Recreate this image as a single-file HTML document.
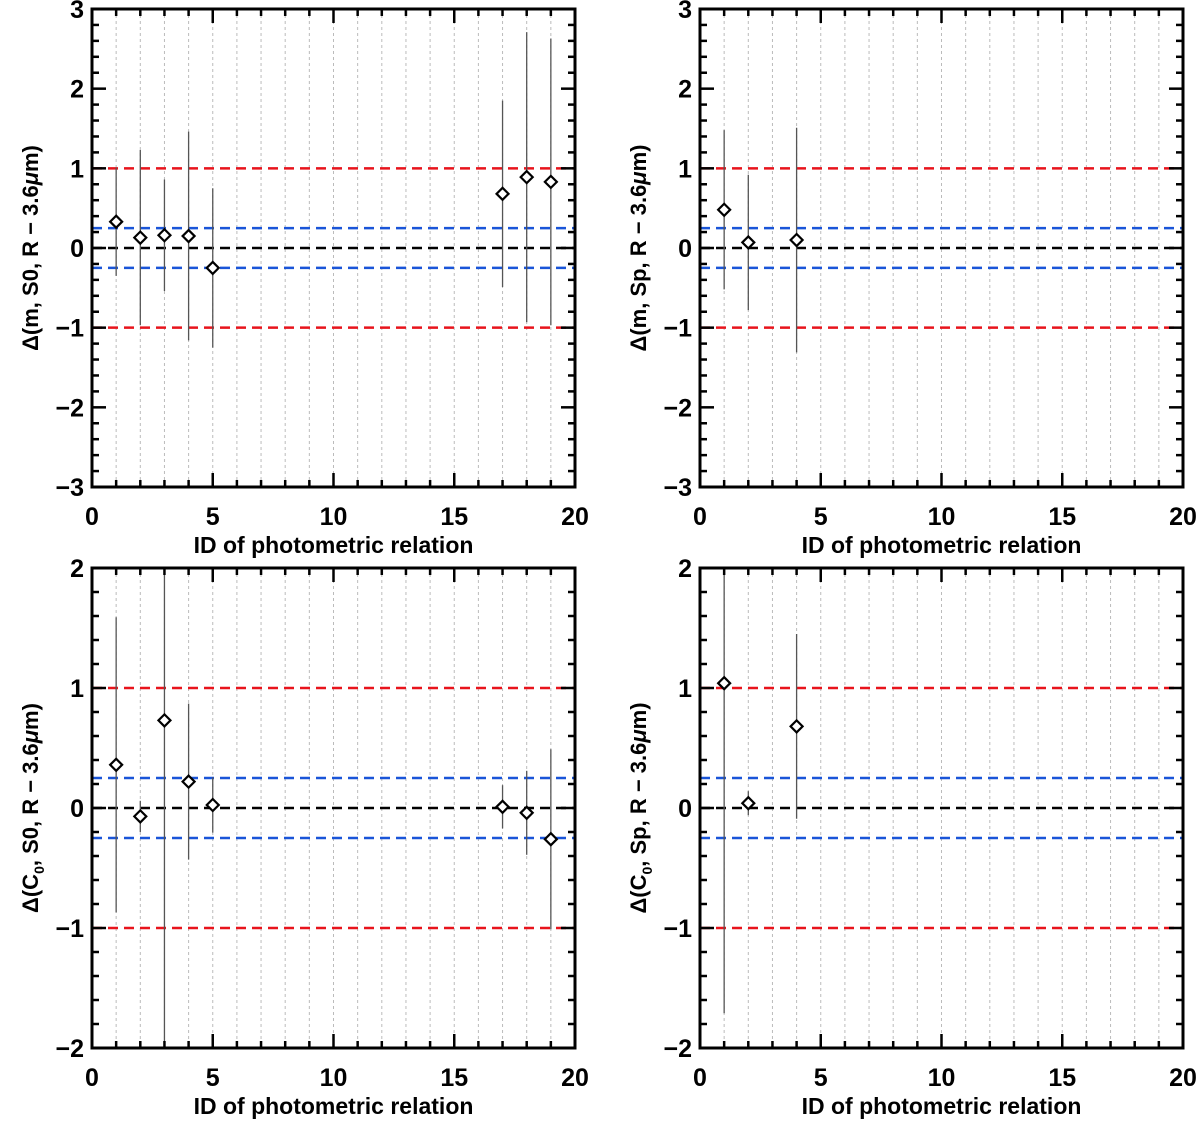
<!DOCTYPE html>
<html><head><meta charset="utf-8"><style>
body{margin:0;background:#fff;}
svg text{font-family:"Liberation Sans",sans-serif;font-weight:bold;fill:#000;}
</style></head><body>
<svg id="fig" width="1200" height="1120" viewBox="0 0 1200 1120" xmlns="http://www.w3.org/2000/svg"></svg>
<script>
// Panel data
const tlIds = [1,2,3,4,5,17,18,19];
const tlVals = [0.33,0.13,0.16,0.15,-0.25,0.68,0.89,0.83];
const tlErrs = [0.68,1.1,0.7,1.31,1.0,1.17,1.82,1.8];
const trIds = [1,2,4];
const trVals = [0.48,0.07,0.1];
const trErrs = [1.0,0.85,1.41];
const blIds = [1,2,3,4,5,17,18,19];
const blVals = [0.36,-0.07,0.73,0.22,0.025,0.01,-0.04,-0.26];
const blErrs = [1.23,0.13,2.8,0.65,0.23,0.18,0.35,0.75];
const brIds = [1,2,4];
const brVals = [1.04,0.04,0.68];
const brErrs = [2.75,0.1,0.77];
const xTicks = [0,5,10,15,20];
const yTicksTop = [-3,-2,-1,0,1,2,3];
const yTicksBot = [-2,-1,0,1,2];

const NS="http://www.w3.org/2000/svg";
const fig=document.getElementById('fig');
function mk(tag,attrs,parent){const e=document.createElementNS(NS,tag);for(const k in attrs)e.setAttribute(k,attrs[k]);(parent||fig).appendChild(e);return e;}

function panel(name,x0,x1,y0,y1,ymin,ymax,yTicks,ids,vals,errs,ytitleParts,tx){
  const g=mk('g',{});
  
  
  const X=v=>x0+(v-0)/(20-0)*(x1-x0);
  const Y=v=>y1-(v-ymin)/(ymax-ymin)*(y1-y0);
  const clip='clip-'+name;
  const cp=mk('clipPath',{id:clip},g);mk('rect',{x:x0,y:y0,width:x1-x0,height:y1-y0},cp);
  for(let i=1;i<20;i++){const l=mk('line',{x1:X(i),x2:X(i),y1:y0,y2:y1,stroke:'#bbb','stroke-width':1,'stroke-dasharray':'3,3'},g);
    }
  const refs=[[1,'#e8141c'],[-1,'#e8141c'],[0.25,'#1a55d8'],[-0.25,'#1a55d8'],[0,'#000']];
  refs.forEach(r=>{const l=mk('line',{x1:x0,x2:x1,y1:Y(r[0]),y2:Y(r[0]),stroke:r[1],'stroke-width':2.5,'stroke-dasharray':'10,6'},g);
    });
  const dg=mk('g',{'clip-path':'url(#'+clip+')'},g);
  ids.forEach((id,i)=>{
    const cx=X(id),cy=Y(vals[i]);
    const e=mk('line',{x1:cx,x2:cx,y1:Y(vals[i]+errs[i]),y2:Y(vals[i]-errs[i]),stroke:'#555','stroke-width':1.3},dg);
    
    const d=mk('polygon',{points:`${cx},${cy-6} ${cx+6},${cy} ${cx},${cy+6} ${cx-6},${cy}`,fill:'#fff',stroke:'#000','stroke-width':2.2},dg);
    
  });
  mk('rect',{x:x0,y:y0,width:x1-x0,height:y1-y0,fill:'none',stroke:'#000','stroke-width':3},g);
  for(let i=0;i<=20;i++){const len=(i%5===0)?14:7;
    mk('line',{x1:X(i),x2:X(i),y1:y1,y2:y1-len,stroke:'#000','stroke-width':2.5},g);
    mk('line',{x1:X(i),x2:X(i),y1:y0,y2:y0+len,stroke:'#000','stroke-width':2.5},g);}
  xTicks.forEach(t=>{const tt=mk('text',{x:X(t),y:y1+38,'text-anchor':'middle','font-size':25},g);tt.textContent=t;
    });
  for(let v=ymin;v<=ymax+1e-6;v+=0.2){const major=Math.abs(v-Math.round(v))<1e-6;const len=major?14:7;
    mk('line',{x1:x0,x2:x0+len,y1:Y(v),y2:Y(v),stroke:'#000','stroke-width':2.5},g);
    mk('line',{x1:x1,x2:x1-len,y1:Y(v),y2:Y(v),stroke:'#000','stroke-width':2.5},g);}
  yTicks.forEach(t=>{const tt=mk('text',{x:x0-8,y:Y(t)+9,'text-anchor':'end','font-size':25},g);tt.textContent=t<0?'\u2212'+(-t):t;
    });
  const xt=mk('text',{x:(x0+x1)/2,y:y1+66,'text-anchor':'middle','font-size':23},g);
  xt.textContent='ID of photometric relation';
  
  const yt=mk('text',{transform:`translate(${tx},${(y0+y1)/2}) rotate(-90)`,'text-anchor':'middle','font-size':22},g);
  yt.innerHTML=ytitleParts;
  
}
panel('panel-m-s0',92,575,9,487,-3,3,yTicksTop,tlIds,tlVals,tlErrs,'Δ(m, S0, R − 3.6<tspan font-style="italic">μ</tspan>m)',38);
panel('panel-m-sp',700,1183,9,487,-3,3,yTicksTop,trIds,trVals,trErrs,'Δ(m, Sp, R − 3.6<tspan font-style="italic">μ</tspan>m)',646);
panel('panel-c0-s0',92,575,568,1048,-2,2,yTicksBot,blIds,blVals,blErrs,'Δ(C<tspan font-size="14" dy="6">0</tspan><tspan dy="-6">, S0, R − 3.6</tspan><tspan font-style="italic">μ</tspan>m)',38);
panel('panel-c0-sp',700,1183,568,1048,-2,2,yTicksBot,brIds,brVals,brErrs,'Δ(C<tspan font-size="14" dy="6">0</tspan><tspan dy="-6">, Sp, R − 3.6</tspan><tspan font-style="italic">μ</tspan>m)',646);
</script>
</body></html>
